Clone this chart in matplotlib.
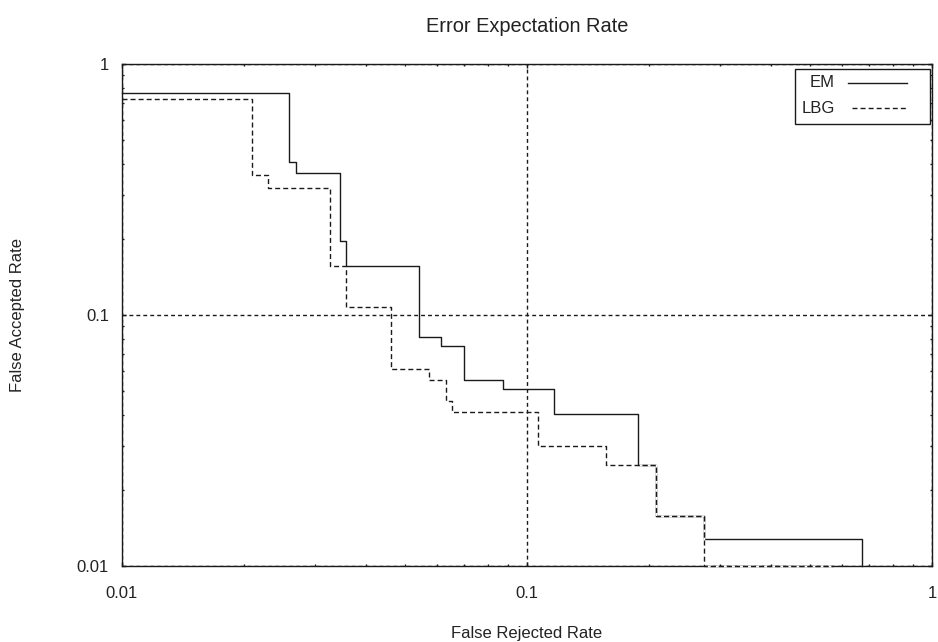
import matplotlib
matplotlib.use("Agg")
import matplotlib.pyplot as plt
from matplotlib.patches import Rectangle
from matplotlib.ticker import LogLocator, NullFormatter, FixedFormatter, FixedLocator

plt.rcParams['font.family'] = ['Liberation Sans', 'DejaVu Sans']
plt.rcParams['font.size'] = 12

# step curves (x = false rejected, y = false accepted)
em_x = [0.01, 0.0259, 0.0269, 0.0345, 0.0357, 0.0542, 0.0612, 0.0699, 0.0874,
        0.1168, 0.1877, 0.2083, 0.2736, 0.672]
em_y = [0.769, 0.408, 0.369, 0.198, 0.157, 0.082, 0.0752, 0.0549, 0.0506,
        0.0402, 0.0253, 0.0158, 0.01284, 0.01]
lbg_x = [0.01, 0.0209, 0.0230, 0.0326, 0.0357, 0.0461, 0.0573, 0.063, 0.0652,
         0.1063, 0.1567, 0.2083, 0.2736, 0.570]
lbg_y = [0.723, 0.361, 0.320, 0.157, 0.1073, 0.0611, 0.0549, 0.0454, 0.0410,
         0.0301, 0.0253, 0.0158, 0.0100, 0.01]

ticks = [0.01, 0.1, 1]
tick_labels = ["0.01", "0.1", "1"]

fig = plt.figure(figsize=(9.38, 6.42), dpi=100)
ax = fig.add_axes([122/938, 1-566/642, 810/938, 502/642])
ax.set_xscale('log')
ax.set_yscale('log')
ax.set_xlim(0.01, 1)
ax.set_ylim(0.01, 1)

ink = '#1a1a1a'
ax.step(em_x, em_y, where='post', color=ink, lw=1.0, zorder=2, clip_on=False)
# dashed with white gaps, so it hides what lies under it (as in the original)
ax.step(lbg_x, lbg_y, where='post', color=ink, lw=1.0, linestyle=(0, (3.6, 2.2)),
        gapcolor='white', zorder=3, clip_on=False)

# axes / ticks gnuplot-like
for s in ax.spines.values():
    s.set_color(ink)
    s.set_linewidth(1.0)
for axis in (ax.xaxis, ax.yaxis):
    axis.set_major_locator(FixedLocator(ticks))
    axis.set_major_formatter(FixedFormatter(tick_labels))
    axis.set_minor_locator(LogLocator(base=10, subs=range(2, 10)))
    axis.set_minor_formatter(NullFormatter())
ax.tick_params(which='both', direction='in', top=True, right=True, colors=ink)
ax.tick_params(which='major', length=3, width=1)
ax.tick_params(which='minor', length=1.6, width=1)
ax.tick_params(axis='x', pad=14.6, labelcolor='#222222')
ax.tick_params(axis='y', pad=9.4, labelcolor='#222222')

ax.grid(True, which='major', color=ink, lw=1.0, linestyle=(0, (2.8, 2.2)))
ax.set_axisbelow(True)

ax.set_title("Error Expectation Rate", pad=23, color='#222222')
ax.set_xlabel("False Rejected Rate", labelpad=17.5, color='#222222')
ax.set_ylabel("False Accepted Rate", labelpad=37, color='#222222')

# key box, top right
ax.add_patch(Rectangle((0.831, 0.8805), 0.1665, 0.1095, transform=ax.transAxes,
                       fill=False, edgecolor=ink, lw=1.0, zorder=4))
ax.text(0.880, 0.9628, "EM", transform=ax.transAxes, ha='right', va='center', color='#222222')
ax.text(0.880, 0.9118, "LBG", transform=ax.transAxes, ha='right', va='center', color='#222222')
ax.plot([0.896, 0.969], [0.9628, 0.9628], transform=ax.transAxes, color=ink, lw=1.0)
ax.plot([0.901, 0.969], [0.9118, 0.9118], transform=ax.transAxes, color=ink, lw=1.0,
        linestyle=(0, (3.6, 2.2)))

fig.savefig("out.png", dpi=100)
